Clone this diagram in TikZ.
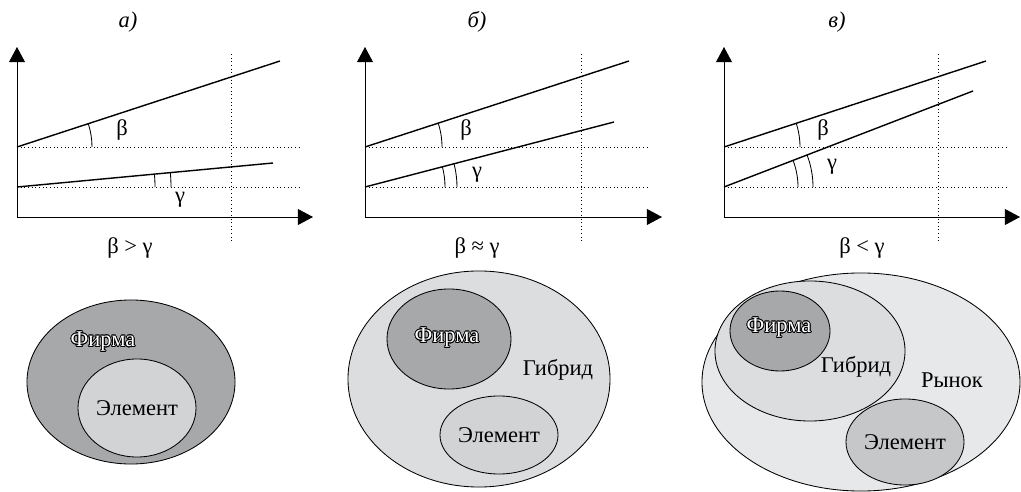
\documentclass[tikz,border=0pt]{standalone}
\usepackage{fontspec}
\setmainfont{Liberation Serif}
\usepackage[copies]{contour}
\contourlength{0.5pt}
\usetikzlibrary{arrows.meta,positioning,shapes.geometric}
\definecolor{FirmGray}{HTML}{A7A8AA}
\definecolor{HybridGray}{HTML}{DCDDDE}
\definecolor{MarketGray}{HTML}{E7E8E9}
\definecolor{ElemGray}{HTML}{D2D3D5}
\definecolor{ElemDark}{HTML}{C6C7C9}

\begin{document}
\begin{tikzpicture}[
  x=0.025cm, y=0.025cm,
  axis/.style={line width=0.6pt, {Triangle[length=3.8mm,width=4mm]}-{Triangle[length=3.8mm,width=4mm]}},
  trend/.style={line width=1pt},
  guide/.style={dotted, line width=0.6pt},
  ang/.style={line width=0.6pt},
  blob/.style={ellipse, draw, line width=0.6pt, inner sep=0pt},
  lbl/.style={font=\fontsize{16}{18}\selectfont},
  firmtxt/.style={lbl, text=white}
]
  \useasboundingbox (0,0) rectangle (1021,-492);

  % panel a
  \coordinate (oa) at (17,-217);
  \coordinate (ua) at (17,-147);
  \coordinate (la) at (17,-187);
  \node[lbl, font=\fontsize{16}{18}\selectfont\itshape] (capa) at (128,-22) {а)};
  \draw[guide] (ua) -- (302,-147);
  \draw[guide] (la) -- (302,-187);
  \draw[guide] (231,-54) -- (231,-243);
  \draw[axis] (17,-47) -- (oa) -- (313,-217);
  \draw[trend] (ua) -- (280,-61);
  \draw[trend] (la) -- (273,-163);
  \draw[ang] (ua) ++(75,0) arc[start angle=0, end angle=18.1, radius=75];
  \draw[ang] (la) ++(138,0) arc[start angle=0, end angle=5.4, radius=138];
  \draw[ang] (la) ++(154,0) arc[start angle=0, end angle=5.4, radius=154];
  \node[lbl] (ba) at (122,-130) {β};
  \node[lbl] (ga) at (180,-200) {γ};
  \node[lbl] (rela) at (130,-248) {β > γ};

  % panel b
  \coordinate (ob) at (365,-217);
  \coordinate (ub) at (365,-147);
  \coordinate (lb) at (365,-187);
  \node[lbl, font=\fontsize{16}{18}\selectfont\itshape] (capb) at (477,-22) {б)};
  \draw[guide] (ub) -- (650,-147);
  \draw[guide] (lb) -- (650,-187);
  \draw[guide] (581,-54) -- (581,-243);
  \draw[axis] (365,-47) -- (ob) -- (662,-217);
  \draw[trend] (ub) -- (629,-61);
  \draw[trend] (lb) -- (614,-122);
  \draw[ang] (ub) ++(77,0) arc[start angle=0, end angle=18.0, radius=77];
  \draw[ang] (lb) ++(80,0) arc[start angle=0, end angle=14.6, radius=80];
  \draw[ang] (lb) ++(92,0) arc[start angle=0, end angle=14.6, radius=92];
  \node[lbl] (bb) at (466,-130) {β};
  \node[lbl] (gb) at (477,-175) {γ};
  \node[lbl] (relb) at (477,-248) {β ≈ γ};

  % panel c
  \coordinate (oc) at (724,-217);
  \coordinate (uc) at (724,-147);
  \coordinate (lc) at (724,-187);
  \node[lbl, font=\fontsize{16}{18}\selectfont\itshape] (capc) at (837,-22) {в)};
  \draw[guide] (uc) -- (1008,-147);
  \draw[guide] (lc) -- (1008,-187);
  \draw[guide] (938,-54) -- (938,-243);
  \draw[axis] (724,-47) -- (oc) -- (1020,-217);
  \draw[trend] (uc) -- (986,-61);
  \draw[trend] (lc) -- (973,-91);
  \draw[ang] (uc) ++(76,0) arc[start angle=0, end angle=18.2, radius=76];
  \draw[ang] (lc) ++(74,0) arc[start angle=0, end angle=21.1, radius=74];
  \draw[ang] (lc) ++(89,0) arc[start angle=0, end angle=21.1, radius=89];
  \node[lbl] (bc) at (823,-130) {β};
  \node[lbl] (gc) at (832,-167) {γ};
  \node[lbl] (relc) at (862,-248) {β < γ};

  % sets
  \node[blob, fill=FirmGray, minimum width=5.2cm, minimum height=4.1cm] (firma) at (131,-382) {};
  \node[blob, fill=ElemGray, minimum width=2.95cm, minimum height=2.45cm] (elema) at (137,-408) {};
  \node[firmtxt] at (103,-342) {\contour{black}{Фирма}};
  \node[lbl] at (elema) {Элемент};

  \node[blob, fill=HybridGray, minimum width=6.55cm, minimum height=5.4cm] (hybb) at (479,-379) {};
  \node[blob, fill=FirmGray, minimum width=3.1cm, minimum height=2.5cm] (firmb) at (449,-339) {};
  \node[blob, fill=ElemGray, minimum width=2.95cm, minimum height=1.95cm] (elemb) at (499,-435) {};
  \node[firmtxt] at (447,-338) {\contour{black}{Фирма}};
  \node[lbl] at (558,-370) {Гибрид};
  \node[lbl] at (elemb) {Элемент};

  \node[blob, fill=MarketGray, minimum width=7.95cm, minimum height=5.45cm] (mktc) at (861,-382) {};
  \node[blob, fill=HybridGray, minimum width=4.75cm, minimum height=3.5cm] (hybc) at (810,-351) {};
  \node[blob, fill=FirmGray, minimum width=2.5cm, minimum height=2.0cm] (firmc) at (780,-331) {};
  \node[blob, fill=ElemDark, minimum width=2.95cm, minimum height=2.15cm] (elemc) at (905,-442) {};
  \node[firmtxt] at (779,-328) {\contour{black}{Фирма}};
  \node[lbl] at (856,-367) {Гибрид};
  \node[lbl] at (952,-380) {Рынок};
  \node[lbl] at (elemc) {Элемент};
\end{tikzpicture}
\end{document}
